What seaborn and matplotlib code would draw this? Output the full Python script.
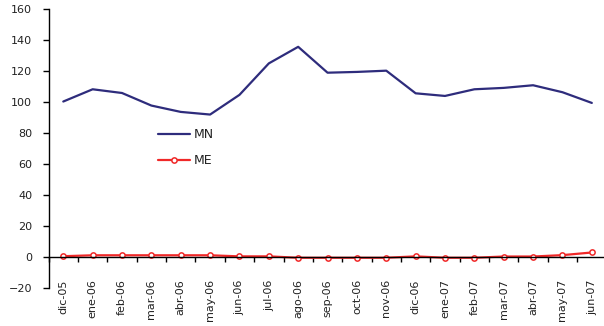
import numpy as np
import pandas as pd
import matplotlib
matplotlib.use("Agg")
import matplotlib.pyplot as plt
import seaborn as sns

# Monthly series
months = ["dic-05", "ene-06", "feb-06", "mar-06", "abr-06", "may-06", "jun-06",
          "jul-06", "ago-06", "sep-06", "oct-06", "nov-06", "dic-06", "ene-07",
          "feb-07", "mar-07", "abr-07", "may-07", "jun-07"]
mn = [100.5, 108.4, 106.0, 97.9, 93.8, 92.1, 104.8, 125.1, 135.8, 119.1,
      119.6, 120.4, 105.8, 104.1, 108.4, 109.3, 111.0, 106.5, 99.6]
me = [0.7, 1.3, 1.3, 1.3, 1.3, 1.3, 0.6, 0.6, -0.3, -0.3,
      -0.3, -0.3, 0.6, -0.3, -0.3, 0.5, 0.5, 1.4, 3.1]
y_ticks = [-20, 0, 20, 40, 60, 80, 100, 120, 140, 160]

sns.set_theme(style="white")
plt.rcParams["font.family"] = ["DejaVu Sans"]

pos = np.arange(len(months))
df = pd.DataFrame({
    "pos": np.concatenate([pos, pos]),
    "valor": mn + me,
    "serie": ["MN"] * len(months) + ["ME"] * len(months),
})

fig = plt.figure(figsize=(6.04, 3.26), dpi=100)
W, H = 604, 326
left_px, right_px = 48.6, 606.5
top_px, bot_px = 9.3, 288.3
ax = fig.add_axes([left_px / W, 1 - bot_px / H,
                   (right_px - left_px) / W, (bot_px - top_px) / H])

sns.lineplot(data=df[df.serie == "MN"], x="pos", y="valor", ax=ax,
             color="#2E2C7C", linewidth=1.6, label="MN")
sns.lineplot(data=df[df.serie == "ME"], x="pos", y="valor", ax=ax,
             color="#F02828", linewidth=1.6, marker="o", markersize=3.8,
             markerfacecolor="white", markeredgecolor="#F02828",
             markeredgewidth=1.1, label="ME")

ax.set_xlim(-0.5, len(months) - 0.5)
ax.set_ylim(-20, 160)
ax.set_yticks(y_ticks)
ax.set_xlabel("")
ax.set_ylabel("")

# Category axis sits on zero, labels placed below the plot area
ax.spines["bottom"].set_position(("data", 0))
ax.spines["top"].set_visible(False)
ax.spines["right"].set_visible(False)
for s in ("left", "bottom"):
    ax.spines[s].set_color("black")
    ax.spines[s].set_linewidth(1.0)

ax.set_xticks(pos)
ax.set_xticklabels(months, rotation=90, fontsize=8, color="#222222")
ax.set_xticks(np.arange(-0.5, len(months), 1.0), minor=True)
ax.tick_params(axis="x", which="major", length=0, pad=15.8)
ax.tick_params(axis="x", which="minor", bottom=True, direction="out",
               length=3.8, width=1.0, color="black")
ax.tick_params(axis="y", which="major", left=True, direction="out",
               length=4.3, width=1.0, color="black", pad=7.5,
               labelsize=8, labelcolor="#222222")

leg = ax.legend(loc="upper left", bbox_to_anchor=(0.196, 0.575), frameon=False,
                fontsize=9, handlelength=2.6, handletextpad=0.3,
                labelspacing=1.05, borderpad=0, borderaxespad=0)
for t in leg.get_texts():
    t.set_color("#222222")

fig.savefig("out.png", dpi=100)
